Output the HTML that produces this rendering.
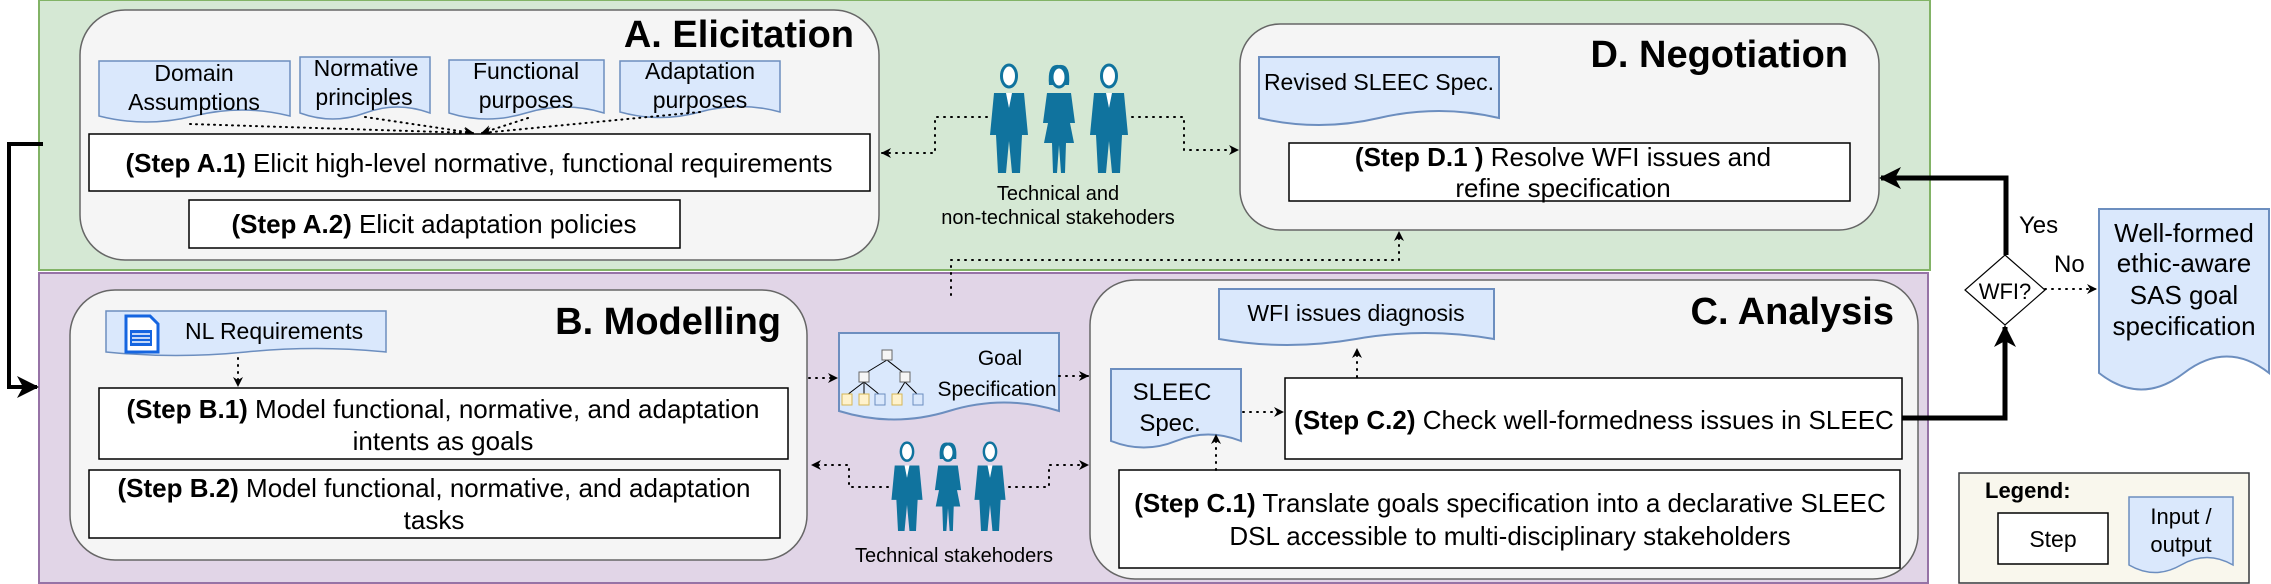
<!DOCTYPE html>
<html><head><meta charset="utf-8"><style>
html,body{margin:0;padding:0;background:#fff;}
svg{display:block;}
text{font-family:"Liberation Sans",Arial,sans-serif;fill:#000;}
</style></head><body>
<svg width="2271" height="584" viewBox="0 0 2271 584" xmlns="http://www.w3.org/2000/svg">
<defs>
<marker id="ah" markerWidth="10" markerHeight="10" refX="9" refY="5" orient="auto" markerUnits="userSpaceOnUse" viewBox="0 0 10 10">
<path d="M0,0 L10,5 L0,10 L3,5 Z" fill="#000"/></marker>
<marker id="ahb" markerWidth="22" markerHeight="22" refX="20" refY="11" orient="auto" markerUnits="userSpaceOnUse" viewBox="0 0 22 22">
<path d="M0,0 L22,11 L0,22 L6,11 Z" fill="#000"/></marker>
<symbol id="man" viewBox="0 0 40 110">
<ellipse cx="20" cy="13" rx="7.5" ry="11" fill="#fff" stroke="#10739e" stroke-width="3"/>
<path d="M5,30 L35,30 L39,72 L33,72 L31,110 L23,110 L20,78 L17,110 L9,110 L7,72 L1,72 Z" fill="#10739e"/>
<path d="M17,30 L20,45 L23,30 Z" fill="#fff"/>
</symbol>
<symbol id="woman" viewBox="0 0 40 110">
<path d="M10,22 Q8,0 20,2 Q32,0 30,22 Z" fill="#10739e"/>
<ellipse cx="20" cy="14" rx="7" ry="10" fill="#fff" stroke="#10739e" stroke-width="3"/>
<path d="M8,30 L32,30 L36,60 L31,60 L35,80 L27,80 L26,110 L22,110 L20,82 L18,110 L14,110 L13,80 L5,80 L9,60 L4,60 Z" fill="#10739e"/>
</symbol>
</defs>

<!-- panels -->
<rect x="39" y="0" width="1891" height="270" fill="#d5e8d4" stroke="#82b366" stroke-width="2"/>
<rect x="39" y="273" width="1889" height="310" fill="#e1d5e7" stroke="#9673a6" stroke-width="2"/>

<!-- Elicitation -->
<rect x="80" y="10" width="799" height="250" rx="45" fill="#f5f5f5" stroke="#666" stroke-width="1.5"/>
<text x="854" y="47" font-size="38" font-weight="bold" text-anchor="end">A. Elicitation</text>

<g fill="#dae8fc" stroke="#6c8ebf" stroke-width="1.5">
<path d="M99,61 H290 V116 Q242,104 194,116 T99,116 Z"/>
<path d="M300,57 H430 V113 Q397,101 365,113 T300,113 Z"/>
<path d="M449,60 H604 V113 Q565,101 526,113 T449,113 Z"/>
<path d="M620,61 H780 V112 Q740,101 700,112 T620,112 Z"/>
</g>
<g font-size="23" text-anchor="middle">
<text x="194" y="81">Domain</text><text x="194" y="110">Assumptions</text>
<text x="366" y="76">Normative</text><text x="364" y="105">principles</text>
<text x="526" y="79">Functional</text><text x="526" y="108">purposes</text>
<text x="700" y="79">Adaptation</text><text x="700" y="108">purposes</text>
</g>
<g stroke="#000" stroke-width="2" stroke-dasharray="1 5" stroke-linecap="round" fill="none">
<path d="M190,124 L473,133" marker-end="url(#ah)"/>
<path d="M365,117 L473,133" marker-end="url(#ah)"/>
<path d="M528,118 L482,133" marker-end="url(#ah)"/>
<path d="M700,112 L482,133" marker-end="url(#ah)"/>
</g>

<rect x="89" y="134" width="781" height="57" fill="#fff" stroke="#000" stroke-width="1.5"/>
<text x="479" y="172" font-size="26" text-anchor="middle"><tspan font-weight="bold">(Step A.1)</tspan> Elicit high-level normative, functional requirements</text>
<rect x="189" y="200" width="491" height="48" fill="#fff" stroke="#000" stroke-width="1.5"/>
<text x="434" y="233" font-size="26" text-anchor="middle"><tspan font-weight="bold">(Step A.2)</tspan> Elicit adaptation policies</text>

<!-- stakeholders green -->
<use href="#man" x="989" y="63" width="40" height="110"/>
<use href="#woman" x="1039" y="63" width="40" height="110"/>
<use href="#man" x="1089" y="63" width="40" height="110"/>
<text x="1058" y="200" font-size="20" text-anchor="middle">Technical and</text>
<text x="1058" y="224" font-size="20" text-anchor="middle">non-technical stakehoders</text>

<g stroke="#000" stroke-width="2" stroke-dasharray="1 6" stroke-linecap="round" fill="none">
<path d="M987,117 H935 V153 H882" marker-end="url(#ah)"/>
<path d="M1132,117 H1184 V150 H1238" marker-end="url(#ah)"/>
<path d="M951,295 V260 H1399 V232" marker-end="url(#ah)"/>
<path d="M1562,143 V95 H1501" marker-end="url(#ah)"/>
</g>

<!-- Negotiation -->
<rect x="1240" y="24" width="639" height="206" rx="40" fill="#f5f5f5" stroke="#666" stroke-width="1.5"/>
<text x="1848" y="67" font-size="38" font-weight="bold" text-anchor="end">D. Negotiation</text>
<path d="M1259,57 H1499 V118 Q1439,104 1379,118 T1259,118 Z" fill="#dae8fc" stroke="#6c8ebf" stroke-width="2"/>
<text x="1379" y="90" font-size="23" text-anchor="middle">Revised SLEEC Spec.</text>
<rect x="1289" y="143" width="561" height="58" fill="#fff" stroke="#000" stroke-width="1.5"/>
<text x="1563" y="166" font-size="26" text-anchor="middle"><tspan font-weight="bold">(Step D.1 )</tspan> Resolve WFI issues and</text>
<text x="1563" y="197" font-size="26" text-anchor="middle">refine specification</text>

<!-- Modelling -->
<rect x="70" y="290" width="737" height="270" rx="45" fill="#f5f5f5" stroke="#666" stroke-width="1.5"/>
<text x="781" y="334" font-size="38" font-weight="bold" text-anchor="end">B. Modelling</text>
<path d="M106,311 H386 V352 Q316,345 246,352 T106,352 Z" fill="#dae8fc" stroke="#6c8ebf" stroke-width="1.5"/>
<path d="M126,316 H150 L158,324 V352 H126 Z" fill="#fff" stroke="#1565e0" stroke-width="3"/>
<rect x="130" y="330" width="22" height="16" fill="#1565e0"/>
<path d="M132,334 H150 M132,338 H150 M132,342 H150" stroke="#fff" stroke-width="1.5"/>
<text x="185" y="339" font-size="23">NL Requirements</text>
<path d="M238,358 V386" stroke="#000" stroke-width="2" stroke-dasharray="1 6" stroke-linecap="round" marker-end="url(#ah)"/>

<rect x="99" y="388" width="689" height="71" fill="#fff" stroke="#000" stroke-width="1.5"/>
<text x="443" y="418" font-size="26" text-anchor="middle"><tspan font-weight="bold">(Step B.1)</tspan> Model functional, normative, and adaptation</text>
<text x="443" y="450" font-size="26" text-anchor="middle">intents as goals</text>
<rect x="89" y="470" width="691" height="68" fill="#fff" stroke="#000" stroke-width="1.5"/>
<text x="434" y="497" font-size="26" text-anchor="middle"><tspan font-weight="bold">(Step B.2)</tspan> Model functional, normative, and adaptation</text>
<text x="434" y="529" font-size="26" text-anchor="middle">tasks</text>

<!-- Goal spec -->
<path d="M839,333 H1059 V411 Q1004,394 949,411 T839,411 Z" fill="#dae8fc" stroke="#6c8ebf" stroke-width="2"/>
<g stroke="#000" stroke-width="1" fill="none">
<path d="M887,360 L864,374 M887,360 L905,374 M864,382 L847,395 M864,382 L864,395 M864,382 L880,395 M905,382 L897,395 M905,382 L918,395"/>
</g>
<g stroke="#666" stroke-width="1">
<rect x="882" y="350" width="10" height="10" fill="#f5f5f5"/>
<rect x="859" y="372" width="10" height="10" fill="#f5f5f5"/>
<rect x="900" y="372" width="10" height="10" fill="#f5f5f5"/>
<rect x="842" y="394" width="10" height="11" fill="#fff2cc" stroke="#d6b656"/>
<rect x="859" y="394" width="10" height="11" fill="#fff2cc" stroke="#d6b656"/>
<rect x="875" y="394" width="10" height="11" fill="#dae8fc" stroke="#6c8ebf"/>
<rect x="892" y="394" width="10" height="11" fill="#fff2cc" stroke="#d6b656"/>
<rect x="913" y="394" width="10" height="11" fill="#dae8fc" stroke="#6c8ebf"/>
</g>
<text x="1000" y="365" font-size="21" text-anchor="middle">Goal</text>
<text x="997" y="396" font-size="21" text-anchor="middle">Specification</text>

<!-- technical stakeholders -->
<use href="#man" x="890" y="441" width="34" height="90"/>
<use href="#woman" x="931" y="441" width="34" height="90"/>
<use href="#man" x="973" y="441" width="34" height="90"/>
<text x="954" y="562" font-size="20" text-anchor="middle">Technical stakehoders</text>

<g stroke="#000" stroke-width="2" stroke-dasharray="1 6" stroke-linecap="round" fill="none">
<path d="M809,378 H837" marker-end="url(#ah)"/>
<path d="M1059,376 H1088" marker-end="url(#ah)"/>
<path d="M888,487 H849 V465 H812" marker-end="url(#ah)"/>
<path d="M1009,487 H1049 V465 H1088" marker-end="url(#ah)"/>
</g>

<!-- Analysis -->
<rect x="1090" y="280" width="828" height="299" rx="45" fill="#f5f5f5" stroke="#666" stroke-width="1.5"/>
<text x="1894" y="324" font-size="38" font-weight="bold" text-anchor="end">C. Analysis</text>
<path d="M1219,289 H1494 V339 Q1425,327 1356,339 T1219,339 Z" fill="#dae8fc" stroke="#6c8ebf" stroke-width="2"/>
<text x="1356" y="321" font-size="23" text-anchor="middle">WFI issues diagnosis</text>
<path d="M1111,369 H1241 V441 Q1208,428 1176,441 T1111,441 Z" fill="#dae8fc" stroke="#6c8ebf" stroke-width="2"/>
<text x="1172" y="400" font-size="24" text-anchor="middle">SLEEC</text>
<text x="1170" y="431" font-size="24" text-anchor="middle">Spec.</text>
<rect x="1285" y="378" width="617" height="81" fill="#fff" stroke="#000" stroke-width="1.5"/>
<text x="1594" y="429" font-size="26" text-anchor="middle"><tspan font-weight="bold">(Step C.2)</tspan> Check well-formedness issues in SLEEC</text>
<rect x="1119" y="470" width="781" height="98" fill="#fff" stroke="#000" stroke-width="1.5"/>
<text x="1510" y="512" font-size="26" text-anchor="middle"><tspan font-weight="bold">(Step C.1)</tspan> Translate goals specification into a declarative SLEEC</text>
<text x="1510" y="545" font-size="26" text-anchor="middle">DSL accessible to multi-disciplinary stakeholders</text>
<g stroke="#000" stroke-width="2" stroke-dasharray="1 6" stroke-linecap="round" fill="none">
<path d="M1357,377 V349" marker-end="url(#ah)"/>
<path d="M1243,412 H1283" marker-end="url(#ah)"/>
<path d="M1216,470 V435" marker-end="url(#ah)"/>
<path d="M2045,289 H2096" marker-end="url(#ah)"/>
</g>

<!-- thick arrows -->
<path d="M1902,418 H2005 V327" stroke="#000" stroke-width="5" fill="none" marker-end="url(#ahb)"/>
<path d="M2006,255 V178 H1881" stroke="#000" stroke-width="5" fill="none" marker-end="url(#ahb)"/>

<!-- diamond -->
<path d="M2005,255 L2045,290 L2005,325 L1965,290 Z" fill="#fff" stroke="#000" stroke-width="1.2"/>
<text x="2005" y="299" font-size="22" text-anchor="middle">WFI?</text>
<text x="2019" y="233" font-size="24">Yes</text>
<text x="2054" y="272" font-size="24">No</text>

<!-- well-formed -->
<path d="M2099,209 H2269 V373 Q2227,340 2184,373 T2099,373 Z" fill="#dae8fc" stroke="#6c8ebf" stroke-width="2"/>
<g font-size="26" text-anchor="middle">
<text x="2184" y="242">Well-formed</text>
<text x="2184" y="272">ethic-aware</text>
<text x="2184" y="304">SAS goal</text>
<text x="2184" y="335">specification</text>
</g>

<!-- legend -->
<rect x="1959" y="473" width="290" height="110" fill="#f9f7ed" stroke="#36393d" stroke-width="1.5"/>
<text x="1985" y="498" font-size="22" font-weight="bold">Legend:</text>
<rect x="1998" y="513" width="110" height="51" fill="#fff" stroke="#000" stroke-width="1.5"/>
<text x="2053" y="547" font-size="23" text-anchor="middle">Step</text>
<path d="M2129,497 H2233 V565 Q2207,550 2181,565 T2129,565 Z" fill="#dae8fc" stroke="#6c8ebf" stroke-width="1.5"/>
<text x="2181" y="524" font-size="22" text-anchor="middle">Input /</text>
<text x="2181" y="552" font-size="22" text-anchor="middle">output</text>

<!-- left connector -->
<path d="M43,144 H9 V387 H37" stroke="#000" stroke-width="4" fill="none" marker-end="url(#ahb)"/>
</svg>
</body></html>
